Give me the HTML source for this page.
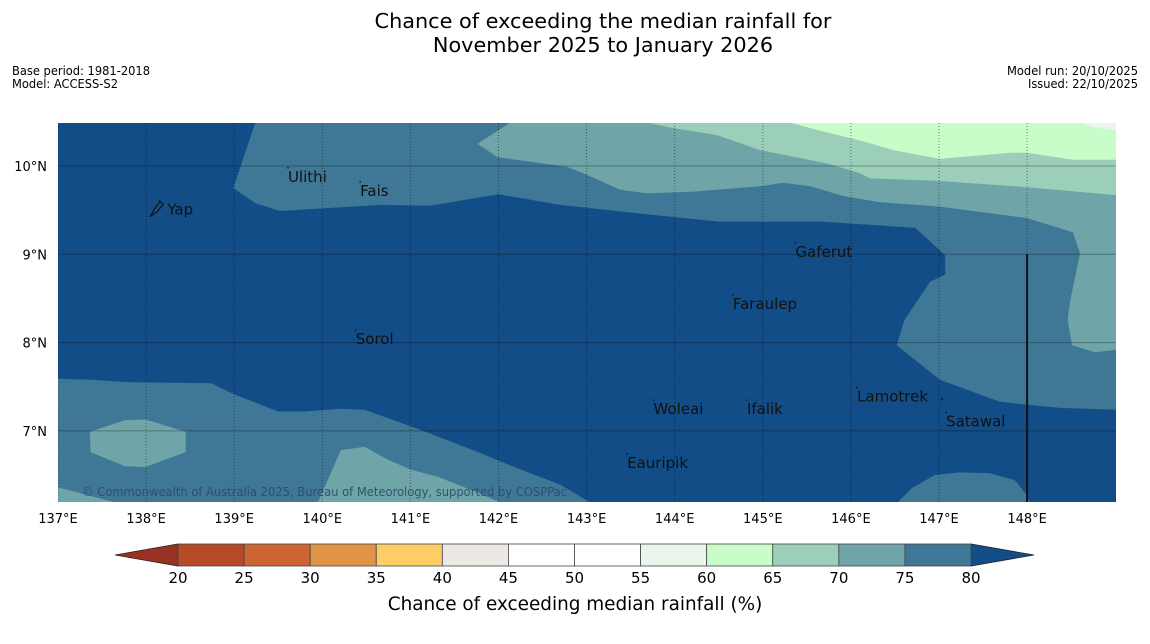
<!DOCTYPE html>
<html><head><meta charset="utf-8"><style>
body{margin:0;background:#fff;width:1150px;height:644px;overflow:hidden}
svg{display:block;font-family:"DejaVu Sans","Liberation Sans",sans-serif}
</style></head><body>
<svg id="chart" width="1150" height="644" viewBox="0 0 1150 644" xmlns="http://www.w3.org/2000/svg">
<text x="603" y="28" font-size="20.8" text-anchor="middle" fill="#000">Chance of exceeding the median rainfall for</text>
<text x="603" y="52" font-size="20.8" text-anchor="middle" fill="#000">November 2025 to January 2026</text>
<text x="12" y="75" font-size="12" textLength="138" lengthAdjust="spacingAndGlyphs">Base period: 1981-2018</text>
<text x="12" y="88" font-size="12" textLength="106" lengthAdjust="spacingAndGlyphs">Model: ACCESS-S2</text>
<text x="1138" y="75" font-size="12" text-anchor="end" textLength="131" lengthAdjust="spacingAndGlyphs">Model run: 20/10/2025</text>
<text x="1138" y="88" font-size="12" text-anchor="end" textLength="110" lengthAdjust="spacingAndGlyphs">Issued: 22/10/2025</text>
<defs><clipPath id="mapclip"><rect x="58" y="123" width="1058" height="379"/></clipPath></defs>
<g id="map" clip-path="url(#mapclip)"></g>
<g id="axes"></g>
<g id="cbar"></g>
<text x="575" y="610" font-size="18.4" text-anchor="middle">Chance of exceeding median rainfall (%)</text>
</svg>
<script>
const NS='http://www.w3.org/2000/svg';
// axis extents
const lonMin=137, lonMax=149.01, latMin=6.2, latMax=10.49;
const lonTicks=[137,138,139,140,141,142,143,144,145,146,147,148];
const latTicks=[7,8,9,10];
const levelColors=['#134d87','#3f7897','#6fa5a8','#9bcfb9','#c8fcc8','#ebf5eb'];
// contour regions: [lon,lat] vertices, level index
const band75Top=[[139.24,10.49],[138.99,9.75],[139.24,9.58],[139.52,9.49],[140.65,9.56],[141.22,9.55],[142.0,9.68],[142.70,9.56],[143.72,9.45],[144.51,9.37],[145.65,9.37],[146.73,9.30],[147.07,8.99],[147.07,8.77],[146.90,8.69],[146.61,8.26],[146.52,7.97],[147.01,7.58],[147.69,7.33],[148.37,7.26],[149.01,7.24],[149.01,10.49]];
const band75Left=[[137,7.59],[137.37,7.58],[137.83,7.55],[138.74,7.54],[138.82,7.50],[139.01,7.41],[139.50,7.22],[139.80,7.22],[140.21,7.25],[140.48,7.24],[141.17,6.99],[141.77,6.76],[142.13,6.61],[142.70,6.39],[143.04,6.19],[137,6.19]];
const band75BR=[[146.53,6.19],[146.69,6.35],[146.95,6.50],[147.24,6.53],[147.58,6.52],[147.86,6.44],[148.0,6.27],[148.03,6.19]];
const band70Top=[[142.13,10.49],[149.01,10.49],[149.01,7.92],[148.77,7.89],[148.51,7.97],[148.46,8.26],[148.49,8.48],[148.60,9.01],[148.52,9.25],[148.0,9.41],[147.01,9.54],[146.33,9.59],[145.91,9.66],[145.54,9.77],[145.23,9.81],[144.97,9.77],[144.21,9.71],[143.69,9.69],[143.38,9.73],[143.0,9.90],[142.78,9.99],[141.99,10.10],[141.76,10.25]];
const band70Oval=[[137.36,6.99],[137.76,7.12],[137.99,7.13],[138.45,6.99],[138.45,6.76],[137.99,6.59],[137.76,6.60],[137.37,6.76]];
const band70Bot=[[139.95,6.19],[140.21,6.78],[140.48,6.82],[140.75,6.67],[141.01,6.56],[141.31,6.48],[141.77,6.30],[142.02,6.19]];
const band70BL=[[137,6.36],[137.65,6.19],[137,6.19]];
const band65=[[143.70,10.49],[143.98,10.43],[144.48,10.35],[144.97,10.18],[145.73,10.03],[146.10,9.92],[146.22,9.86],[147.01,9.83],[148.0,9.76],[149.01,9.67],[149.01,10.49]];
const band60=[[145.31,10.49],[145.65,10.40],[146.10,10.29],[146.48,10.18],[147.01,10.08],[147.81,10.15],[148.0,10.15],[148.52,10.07],[149.01,10.07],[149.01,10.49]];
const band55=[[148.60,10.49],[148.77,10.43],[149.01,10.41],[149.01,10.49]];
const regions=[[band75Top,1],[band75Left,1],[band75BR,1],[band70Top,2],[band70Oval,2],[band70Bot,2],[band70BL,2],[band65,3],[band60,4],[band55,5]];
// places
const placeNames=['Ulithi','Fais','Yap','Gaferut','Faraulep','Sorol','Woleai','Ifalik','Lamotrek','Satawal','Eauripik'];
const placeLon=[139.61,140.43,138.15,145.37,144.66,140.38,143.76,144.82,146.07,147.08,143.46];
const placeLat=[9.98,9.82,9.61,9.13,8.54,8.14,7.35,7.35,7.49,7.21,6.74];
const colorbarBounds=[20,25,30,35,40,45,50,55,60,65,70,75,80];
const colorbarColors=['#b44a27','#cd6532','#e19447','#fdcd66','#ece8e4','#ffffff','#ffffff','#ebf5eb','#c8fcc8','#9bcfb9','#6fa5a8','#3f7897'];

const X=lon=>58+(lon-lonMin)*88.1;
const Y=lat=>166-(lat-10)*88.3;
const map=document.getElementById('map');
function mk(tag,attrs,parent){const e=document.createElementNS(NS,tag);for(const k in attrs)e.setAttribute(k,attrs[k]);parent.appendChild(e);return e;}
const bg=mk('rect',{x:58,y:123,width:1058,height:379,fill:levelColors[0]},map);


regions.forEach(([pts,lv])=>{
  const p=mk('polygon',{points:pts.map(q=>X(q[0]).toFixed(1)+','+Y(q[1]).toFixed(1)).join(' '),fill:levelColors[lv]},map);
  
  
});
latTicks.forEach(l=>{
  const g=mk('line',{x1:58,x2:1116,y1:Y(l),y2:Y(l),stroke:'#000','stroke-opacity':0.3,'stroke-width':1},map);
  
  
});
lonTicks.forEach(l=>{
  const g=mk('line',{x1:X(l),x2:X(l),y1:123,y2:502,stroke:'#000','stroke-opacity':0.45,'stroke-width':1,'stroke-dasharray':'1,2'},map);
  
  
});
const bl=mk('line',{x1:X(148),x2:X(148),y1:Y(9),y2:502,stroke:'#111','stroke-width':2},map);


const cp=mk('text',{x:82,y:496,'font-size':12,fill:'#2a4a66','fill-opacity':0.9,textLength:485,lengthAdjust:'spacingAndGlyphs'},map);
cp.textContent='© Commonwealth of Australia 2025, Bureau of Meteorology, supported by COSPPac';


placeNames.forEach((n,i)=>{
  const x=X(placeLon[i]),y=Y(placeLat[i]);
  const d=mk('circle',{cx:x,cy:y,r:0.8,fill:'#111'},map);
  
  
  const t=mk('text',{x:x+(n==='Yap'?8:0),y:y+14,'font-size':15,fill:'#111'},map);
  t.textContent=n;
  
  
});
const sd=mk('circle',{cx:942,cy:399,r:1,fill:'#111'},map);


const yx=X(138.15),yy=Y(9.61);
const ys=mk('path',{d:`M${yx-9},${yy+16} L${yx-4},${yy+7} L${yx+1},${yy+1} L${yx+4},${yy+4} L${yx-2},${yy+11} Z`,fill:'none',stroke:'#111','stroke-width':1.2},map);


const axes=document.getElementById('axes');
lonTicks.forEach(l=>{
  const t=mk('text',{x:X(l),y:523,'font-size':13,'text-anchor':'middle'},axes);
  t.textContent=l+'°E';
  
  
});
latTicks.forEach(l=>{
  const t=mk('text',{x:47,y:Y(l)+5,'font-size':13,'text-anchor':'end'},axes);
  t.textContent=l+'°N';
  
  
});
const cb=document.getElementById('cbar');
const CX=v=>178+(v-20)*(793/60);
const ct=544,ch=22;
const lt=mk('polygon',{points:`${CX(20)},${ct} ${CX(20)},${ct+ch} 115,${ct+ch/2}`,fill:'#993222',stroke:'#222','stroke-width':0.8},cb);


const rt=mk('polygon',{points:`${CX(80)},${ct} ${CX(80)},${ct+ch} 1034,${ct+ch/2}`,fill:'#134d87',stroke:'#222','stroke-width':0.8},cb);


colorbarColors.forEach((c,i)=>{
  const r=mk('rect',{x:CX(colorbarBounds[i]),y:ct,width:CX(colorbarBounds[i+1])-CX(colorbarBounds[i]),height:ch,fill:c,stroke:'#444','stroke-width':0.8},cb);
  
  
});
colorbarBounds.forEach(v=>{
  const t=mk('text',{x:CX(v),y:583,'font-size':15,'text-anchor':'middle'},cb);
  t.textContent=v;
  
  
});
</script>
</body></html>
